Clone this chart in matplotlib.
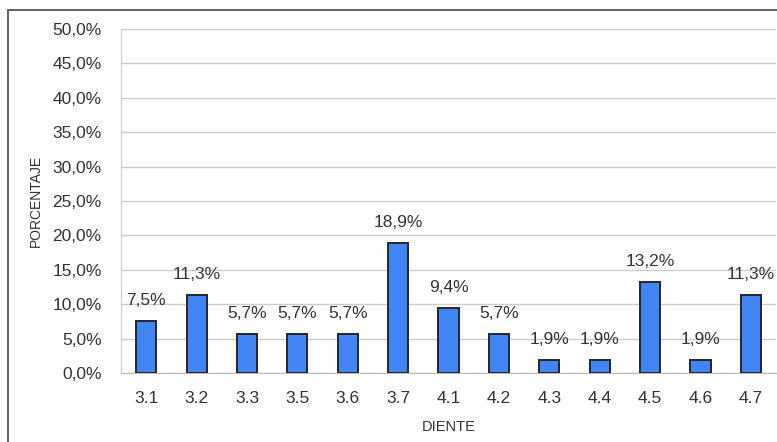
import matplotlib
matplotlib.use("Agg")
import matplotlib.pyplot as plt
from matplotlib.patches import Rectangle

dientes = ["3.1", "3.2", "3.3", "3.5", "3.6", "3.7", "4.1", "4.2", "4.3", "4.4", "4.5", "4.6", "4.7"]
porcentajes = [7.5, 11.3, 5.7, 5.7, 5.7, 18.9, 9.4, 5.7, 1.9, 1.9, 13.2, 1.9, 11.3]
y_ticks = [0, 5, 10, 15, 20, 25, 30, 35, 40, 45, 50]

plt.rcParams["font.family"] = ["Liberation Sans", "DejaVu Sans"]
text_color = "#333333"

W, H = 777, 442
fig = plt.figure(figsize=(W / 100, H / 100), dpi=100)
ax = fig.add_axes([121 / W, 1 - 373 / H, (776 - 121) / W, (373 - 29) / H])

x = list(range(len(dientes)))
ax.bar(x, porcentajes, width=0.4, color="#4285F4", edgecolor="#262626",
       linewidth=1.4, zorder=3)

for xi, v in zip(x, porcentajes):
    ax.annotate(f"{v:.1f}%".replace(".", ","), (xi, v), xytext=(0, 9.5),
                textcoords="offset points", ha="center", va="bottom",
                fontsize=12.5, color=text_color)

ax.set_xlim(-0.5, len(dientes) - 0.5)
ax.set_ylim(0, 50)
ax.set_yticks(y_ticks)
ax.set_yticklabels([f"{t:.1f}%".replace(".", ",") for t in y_ticks])
ax.set_xticks(x)
ax.set_xticklabels(dientes)
ax.tick_params(axis="both", length=0, labelsize=12.5, labelcolor=text_color)
ax.tick_params(axis="y", pad=14)
ax.tick_params(axis="x", pad=13)

ax.yaxis.grid(True, color="#cccccc", linewidth=1, zorder=0)
for s in ["top", "right"]:
    ax.spines[s].set_visible(False)
ax.spines["left"].set_color("#cccccc")
ax.spines["bottom"].set_color("#bbbbbb")

ax.set_xlabel("DIENTE", fontsize=10.5, color=text_color)
ax.xaxis.set_label_coords(0.5, -47 / 344)
ax.set_ylabel("PORCENTAJE", fontsize=10, color=text_color)
ax.yaxis.set_label_coords(-78 / 655, 0.5)

fig.patches.append(Rectangle((8 / W, -0.1), 1.2, 1 - 10 / H + 0.1,
                             transform=fig.transFigure, fill=False,
                             edgecolor="#555555", linewidth=1.3))

fig.savefig("out.png", dpi=100)
